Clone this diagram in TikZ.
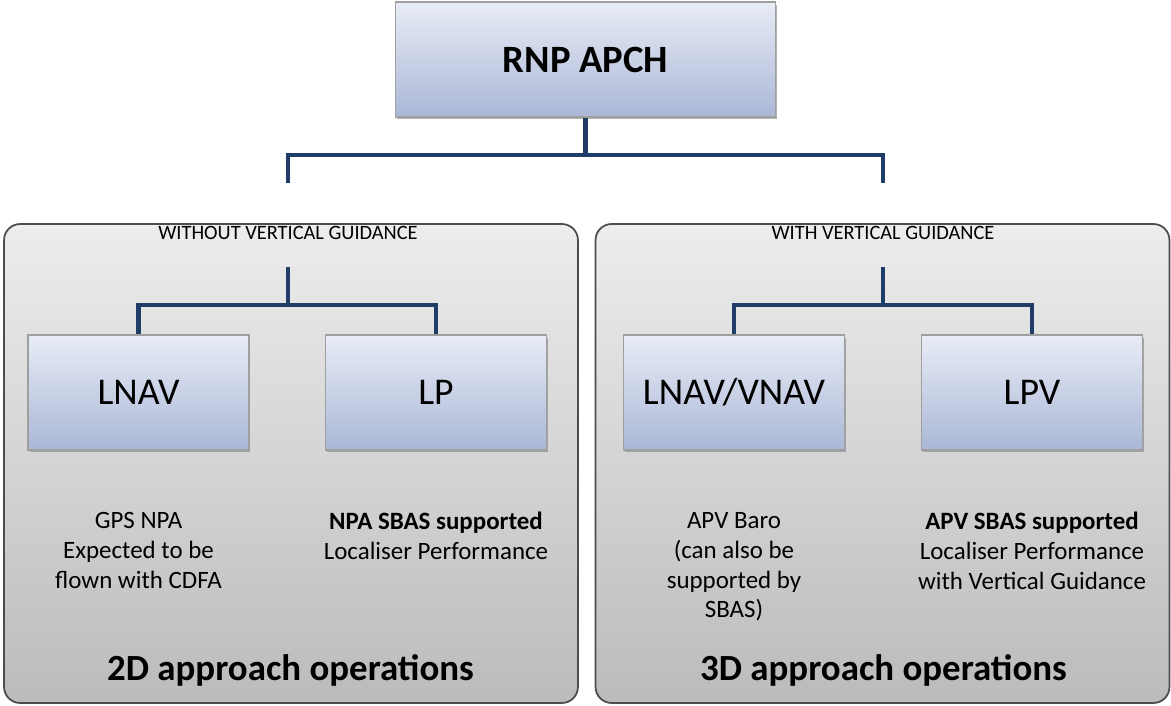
\documentclass[tikz,border=0pt]{standalone}
\usepackage{fontspec}
\setmainfont{Carlito}
\usetikzlibrary{shadows}

\definecolor{linkblue}{HTML}{1F3D66}
\definecolor{boxtop}{HTML}{E8ECF6}
\definecolor{boxbottom}{HTML}{AAB7D6}
\definecolor{paneltop}{HTML}{EDEDED}
\definecolor{panelbottom}{HTML}{BBBBBB}

\begin{document}
\begin{tikzpicture}[x=0.02cm, y=-0.02cm,
  modebox/.style={draw=gray!75, line width=0.6pt, top color=boxtop, bottom color=boxbottom,
    minimum width=4.42cm, minimum height=2.3cm, inner sep=0pt,
    drop shadow={shadow xshift=0.03cm, shadow yshift=-0.05cm, opacity=0.6},
    font=\fontsize{21.5}{26}\selectfont},
  panel/.style={draw=black!70, line width=1pt, rounded corners=0.32cm,
    top color=paneltop, bottom color=panelbottom,
    minimum width=11.48cm, minimum height=9.58cm, inner sep=0pt},
  link/.style={draw=linkblue, line width=2.8pt},
  caption/.style={anchor=base, font=\fontsize{11.6}{13}\selectfont},
  note/.style={anchor=north, align=center, inner sep=0pt, font=\fontsize{14.2}{17}\selectfont},
  opname/.style={anchor=base, font=\bfseries\fontsize{21}{25}\selectfont}]

\useasboundingbox (0,0) rectangle (1171,706);

% Panels
\node[panel] (twod) at (291,463.5) {};
\node[panel] (threed) at (882.5,463.5) {};
\node[caption] (twodcap) at (288,239) {WITHOUT VERTICAL GUIDANCE};
\node[caption] (threedcap) at (883,239) {WITH VERTICAL GUIDANCE};

% Top level
\node[modebox, minimum width=7.62cm, font=\bfseries\fontsize{22}{26}\selectfont] (rnp) at (585.5,59.5) {RNP APCH};
\coordinate (rnpjoin) at (585.5,155);
\coordinate (twodtop) at (288,183);
\coordinate (threedtop) at (883,183);
\draw[link] (rnp.south) -- (rnpjoin);
\draw[link] (twodtop) |- (rnpjoin) -| (threedtop);

% Approach types
\node[modebox] (lnav) at (138.5,392.5) {LNAV};
\node[modebox] (lp) at (436,392.5) {LP};
\node[modebox] (lnavvnav) at (734,392.5) {LNAV/VNAV};
\node[modebox] (lpv) at (1032,392.5) {LPV};

\coordinate (twodstem) at (288,267);
\coordinate (twodjoin) at (288,305);
\coordinate (threedstem) at (883,267);
\coordinate (threedjoin) at (883,305);
\draw[link] (twodstem) -- (twodjoin);
\draw[link] (lnav.north) |- (twodjoin) -| (lp.north);
\draw[link] (threedstem) -- (threedjoin);
\draw[link] (lnavvnav.north) |- (threedjoin) -| (lpv.north);

% Descriptions
\node[note] (lnavnote) at (138.5,512) {GPS NPA\\Expected to be\\flown with CDFA};
\node[note] (lpnote) at (436,512) {\textbf{NPA SBAS supported}\\Localiser Performance};
\node[note] (lnavvnavnote) at (734,512) {APV Baro\\(can also be\\supported by\\SBAS)};
\node[note] (lpvnote) at (1032,512) {\textbf{APV SBAS supported}\\Localiser Performance\\with Vertical Guidance};

\node[opname] (twodops) at (290.5,680) {2D approach operations};
\node[opname] (threedops) at (883.5,680) {3D approach operations};

\end{tikzpicture}
\end{document}
